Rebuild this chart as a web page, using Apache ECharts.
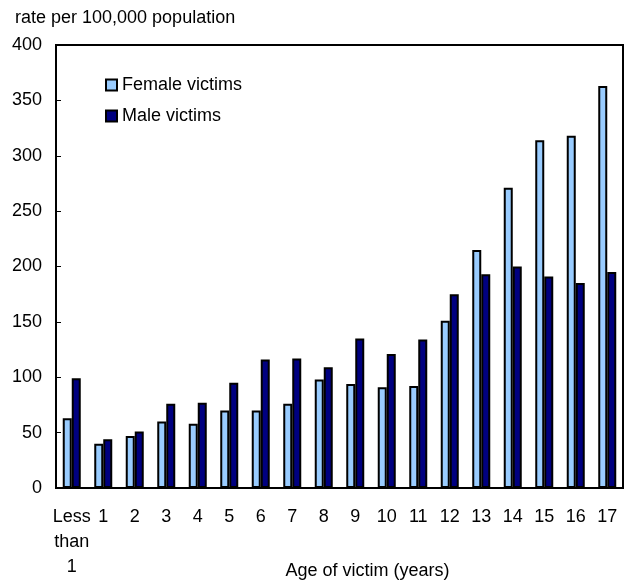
<!DOCTYPE html>
<html>
<head>
<meta charset="utf-8">
<script src="https://cdn.jsdelivr.net/npm/echarts@6/dist/echarts.min.js"></script>
<style>
html,body{margin:0;padding:0;background:#fff;}
#chart{width:626px;height:584px;}
</style>
</head>
<body>
<div id="chart"></div>
<script>
const categories = ['Less\nthan\n1','1','2','3','4','5','6','7','8','9','10','11','12','13','14','15','16','17'];
const femaleVictims = [63, 40, 47, 60, 58, 70, 70, 76, 98, 94, 91, 92, 151, 215, 271, 314, 318, 363];
const maleVictims = [99, 44, 51, 76, 77, 95, 116, 117, 109, 135, 121, 134, 175, 193, 200, 191, 185, 195];
const yTicks = {min: 0, max: 400, interval: 50};

const FONT = '"Liberation Sans", Arial, Helvetica, sans-serif';
const chart = echarts.init(document.getElementById('chart'), null, {renderer: 'canvas'});
chart.setOption({
  animation: false,
  backgroundColor: '#ffffff',
  textStyle: {fontFamily: FONT, color: '#000'},
  title: {
    text: 'rate per 100,000 population',
    left: 10, top: 4,
    textStyle: {fontFamily: FONT, fontSize: 18, fontWeight: 'normal', color: '#000'}
  },
  legend: {
    orient: 'vertical',
    left: 100, top: 71,
    itemWidth: 11, itemHeight: 11,
    itemGap: 13,
    textStyle: {fontFamily: FONT, fontSize: 18, color: '#000'},
    data: [
      {name: 'Female victims', icon: 'rect', itemStyle: {color: '#99ccff', borderColor: '#000', borderWidth: 2}},
      {name: 'Male victims', icon: 'rect', itemStyle: {color: '#000080', borderColor: '#000', borderWidth: 2}}
    ]
  },
  grid: {
    left: 56, right: 3, top: 45, bottom: 96,
    show: true, borderColor: '#000', borderWidth: 2, backgroundColor: 'transparent',
    containLabel: false,
    outerBoundsMode: 'none'
  },
  xAxis: {
    type: 'category',
    data: categories,
    name: 'Age of victim (years)',
    nameLocation: 'middle',
    nameGap: 74,
    nameMoveOverlap: false,
    nameTextStyle: {fontFamily: FONT, fontSize: 18, color: '#000', padding: [0, 0, 0, 56]},
    axisLine: {lineStyle: {color: '#000', width: 2}},
    axisTick: {show: false},
    axisLabel: {interval: 0, fontFamily: FONT, fontSize: 18, color: '#000', lineHeight: 25, margin: 17},
    splitLine: {show: false}
  },
  yAxis: {
    type: 'value',
    min: yTicks.min, max: yTicks.max, interval: yTicks.interval,
    axisLine: {show: true, lineStyle: {color: '#000', width: 2}},
    axisTick: {show: true, inside: true, length: 5, lineStyle: {color: '#000', width: 1}},
    axisLabel: {fontFamily: FONT, fontSize: 18, color: '#000', margin: 14},
    splitLine: {show: false}
  },
  series: [
    {
      name: 'Female victims', type: 'bar', data: femaleVictims,
      barWidth: 9, barGap: '0%',
      itemStyle: {color: '#99ccff', borderColor: '#000', borderWidth: 2}
    },
    {
      name: 'Male victims', type: 'bar', data: maleVictims,
      barWidth: 9, barGap: '0%',
      itemStyle: {color: '#000080', borderColor: '#000', borderWidth: 2}
    }
  ]
});
</script>
</body>
</html>
